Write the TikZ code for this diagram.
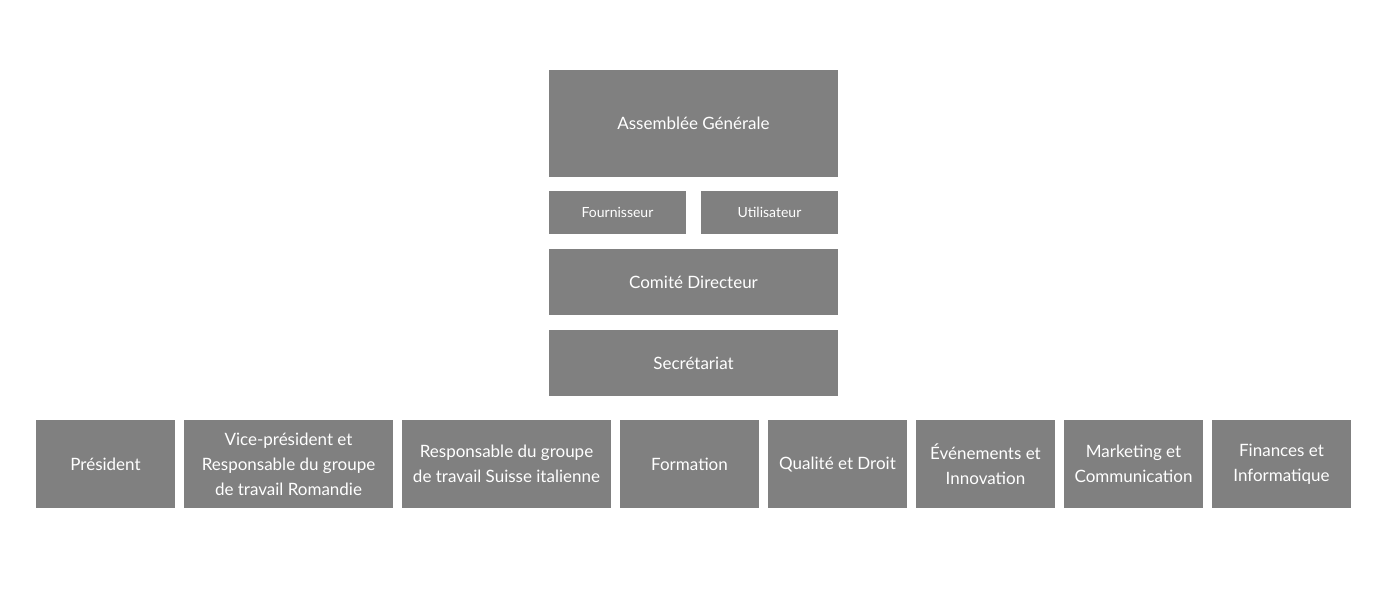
\documentclass[tikz,border=0pt]{standalone}
\usepackage{fontspec}
\setmainfont{Lato}
\definecolor{boxgray}{HTML}{808080}
\tikzset{
  unit/.style={fill=boxgray, text=white, inner sep=0pt, align=center,
    font=\fontsize{17}{25}\selectfont},
  small/.style={font=\fontsize{14}{18}\selectfont}
}
\begin{document}
\begin{tikzpicture}[x=1pt, y=-1pt]
\useasboundingbox (0,0) rectangle (1373,610);
% Oberer Block
\node[unit, minimum width=289, minimum height=107] (ag) at (693.5,123.5) {Assemblée Générale};
\node[unit, small, minimum width=137, minimum height=43] (fourn) at (617.5,212.5) {Fournisseur};
\node[unit, small, minimum width=137, minimum height=43] (util) at (769.5,212.5) {Utilisateur};
\node[unit, minimum width=289, minimum height=66] (cd) at (693.5,282) {Comité Directeur};
\node[unit, minimum width=289, minimum height=66] (sec) at (693.5,363) {Secrétariat};

% Ressorts
\node[unit, minimum width=139, minimum height=88] (pres) at (105.5,464) {Président};
\node[unit, minimum width=209, minimum height=88] (vp) at (288.5,464) {Vice-président et\\Responsable du groupe\\de travail Romandie};
\node[unit, minimum width=209, minimum height=88] (ti) at (506.5,464) {Responsable du groupe\\de travail Suisse italienne};
\node[unit, minimum width=139, minimum height=88] (form) at (689.5,464) {Formation};
\node[unit, minimum width=139, minimum height=88] (qual) at (837.5,464) {Qualité et Droit};
\node[unit, minimum width=139, minimum height=88] (evt) at (985.5,464) {Événements et\\Innovation};
\node[unit, minimum width=139, minimum height=88] (mkt) at (1133.5,464) {Marketing et\\Communication};
\node[unit, minimum width=139, minimum height=88] (fin) at (1281.5,464) {Finances et\\Informatique};
\end{tikzpicture}
\end{document}
